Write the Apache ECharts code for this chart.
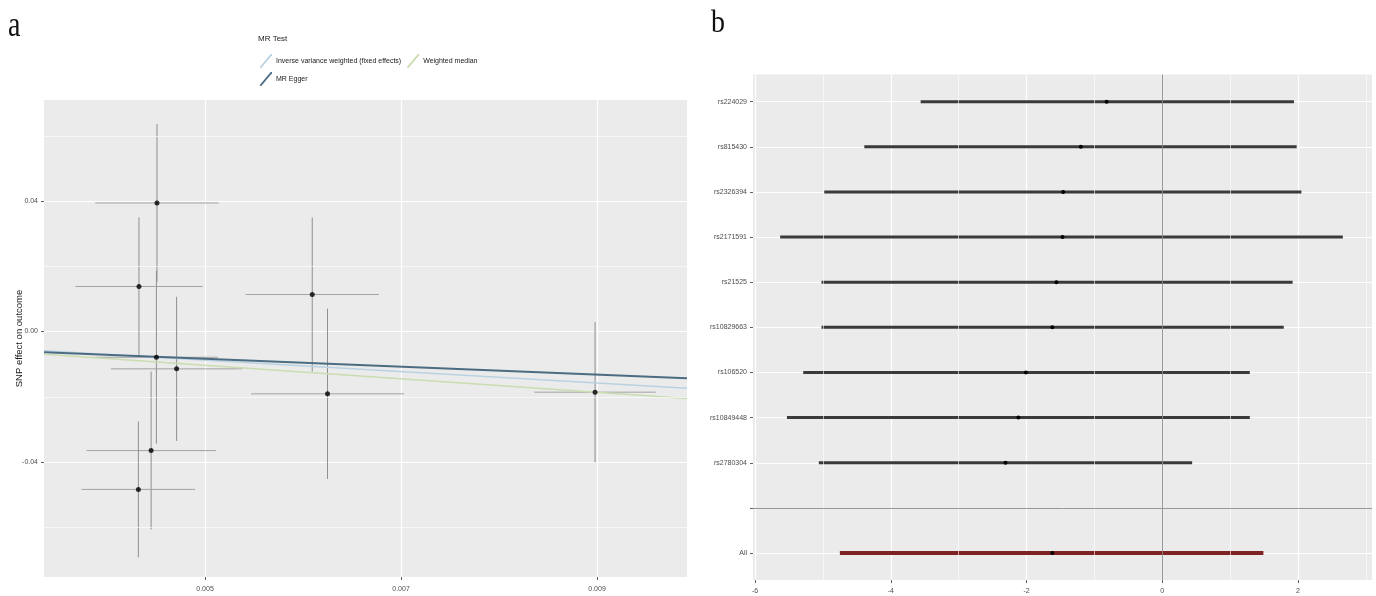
<!DOCTYPE html>
<html><head><meta charset="utf-8">
<script src="https://cdn.jsdelivr.net/npm/echarts@6/dist/echarts.min.js"></script>
<style>html,body{margin:0;padding:0;background:#fff}#c{width:1376px;height:596px}</style>
</head><body><div id="c"></div>
<script>
// ---------- Panel a: MR scatter ----------
const snpX = [0.00451, 0.004326, 0.004504, 0.00471, 0.00445, 0.00432, 0.006094, 0.00625, 0.00898];
const snpY = [0.0394, 0.0138, -0.0079, -0.01145, -0.0365, -0.0484, 0.01134, -0.0191, -0.0186];
const seX  = [0.00063, 0.00065, 0.00063, 0.00067, 0.00066, 0.00058, 0.00068, 0.00078, 0.00062];
const seY  = [0.0242, 0.0212, 0.0265, 0.0221, 0.0242, 0.0208, 0.0236, 0.0261, 0.0215];
const methods = ['Inverse variance weighted (fixed effects)', 'MR Egger', 'Weighted median'];
const methodSlope = [-1.75, -1.213, -2.07];
const methodIntercept = [0, -0.0023, 0];
const methodColors = ['#b9d2e2', '#4c6c82', '#cadcb0'];
const xTicksA = [0.005, 0.007, 0.009];
const xMinorA = [0.004, 0.006, 0.008];
const yTicksA = [-0.04, 0, 0.04];
const yMinorA = [-0.06, -0.02, 0.02, 0.06];
const xRangeA = [0.003357, 0.009918];
const yRangeA = [-0.07525, 0.07096];

// ---------- Panel b: forest plot ----------
const snpNames = ['rs224029', 'rs815430', 'rs2326394', 'rs2171591', 'rs21525', 'rs10829663', 'rs106520', 'rs10849448', 'rs2780304', '', 'All'];
const est = [-0.82, -1.20, -1.46, -1.47, -1.56, -1.62, -2.01, -2.12, -2.31, null, -1.62];
const ciLo = [-3.56, -4.39, -4.98, -5.63, -5.02, -5.02, -5.29, -5.53, -5.06, null, -4.75];
const ciHi = [1.94, 1.98, 2.05, 2.66, 1.92, 1.79, 1.29, 1.29, 0.44, null, 1.49];
const xTicksB = [-6, -4, -2, 0, 2];
const xMinorB = [-5, -3, -1, 1, 3];
const xRangeB = [-6.03, 3.09];

const FONT = 'Liberation Sans, Arial, sans-serif';
const tickStyle = {show: true, length: 3, lineStyle: {color: '#333', width: 0.8}};
const labStyle = {color: '#4d4d4d', fontSize: 7, fontFamily: FONT};
const split = {show: true, lineStyle: {color: '#ffffff', width: 1.2}};
const noLine = {show: false, onZero: false};

const chart = echarts.init(document.getElementById('c'), null, {renderer: 'canvas'});

const ablineSeries = methods.map((m, i) => ({
  name: m, type: 'line', xAxisIndex: 0, yAxisIndex: 0, z: 3,
  showSymbol: false, symbol: 'none', silent: true, animation: false,
  lineStyle: {color: methodColors[i], width: i === 1 ? 2 : 1.5},
  itemStyle: {color: methodColors[i]},
  data: xRangeA.map(x => [x, methodIntercept[i] + methodSlope[i] * x])
}));

const forestData = [];
snpNames.forEach((n, i) => { if (est[i] !== null) forestData.push([est[i], i, ciLo[i], ciHi[i]]); });

const legendIcon = 'path://M0,14 L1.3,14 L12,1.3 L12,0 L10.7,0 L0,12.7 Z';

const option = {
  backgroundColor: '#ffffff',
  animation: false,
  graphic: [
    {type: 'text', left: 8, top: 9, scaleY: 1.25, style: {text: 'a', font: '28px "Liberation Serif", "DejaVu Serif", serif', fill: '#111'}},
    {type: 'text', left: 711, top: 8, scaleY: 1.12, style: {text: 'b', font: '28px "Liberation Serif", "DejaVu Serif", serif', fill: '#111'}}
  ],
  title: {text: 'MR Test', left: 253, top: 30, textStyle: {fontSize: 8, fontWeight: 'normal', color: '#1a1a1a', fontFamily: FONT}},
  legend: [
    {data: [methods[0], methods[2]], left: 255, top: 49, itemWidth: 12, itemHeight: 14, itemGap: 6, icon: legendIcon,
     selectedMode: false, textStyle: {fontSize: 7, color: '#1a1a1a', fontFamily: FONT, padding: [0, 0, 0, -1]}},
    {data: [methods[1]], left: 255, top: 67, itemWidth: 12, itemHeight: 14, icon: legendIcon,
     selectedMode: false, textStyle: {fontSize: 7, color: '#1a1a1a', fontFamily: FONT, padding: [0, 0, 0, -1]}}
  ],
  grid: [
    {left: 44, top: 100, width: 643, height: 477, show: true, backgroundColor: '#ebebeb', borderWidth: 0},
    {left: 753, top: 74.6, width: 619, height: 505.5, show: true, backgroundColor: '#ebebeb', borderWidth: 0}
  ],
  xAxis: [
    {type: 'value', gridIndex: 0, min: xRangeA[0], max: xRangeA[1], position: 'bottom',
     axisLine: noLine, axisTick: Object.assign({customValues: xTicksA}, tickStyle),
     axisLabel: Object.assign({customValues: xTicksA, margin: 9, formatter: v => v.toFixed(3)}, labStyle),
     splitLine: split},
    {type: 'value', gridIndex: 1, min: xRangeB[0], max: xRangeB[1], position: 'bottom',
     axisLine: noLine, axisTick: Object.assign({customValues: xTicksB}, tickStyle),
     axisLabel: Object.assign({customValues: xTicksB, margin: 7, formatter: v => String(Math.round(v))}, labStyle),
     splitLine: split}
  ],
  yAxis: [
    {type: 'value', gridIndex: 0, min: yRangeA[0], max: yRangeA[1], position: 'left',
     name: 'SNP effect on outcome', nameLocation: 'middle', nameGap: 20, nameMoveOverlap: false,
     nameTextStyle: {fontSize: 9.5, color: '#1a1a1a', fontFamily: FONT},
     axisLine: noLine, axisTick: Object.assign({customValues: yTicksA}, tickStyle),
     axisLabel: Object.assign({customValues: yTicksA, margin: 6, formatter: v => v.toFixed(2)}, labStyle),
     splitLine: split},
    {type: 'value', gridIndex: 1, min: -0.6, max: 10.6, inverse: true, position: 'left',
     axisLine: noLine,
     axisTick: Object.assign({customValues: snpNames.map((n, i) => i)}, tickStyle),
     axisLabel: Object.assign({customValues: snpNames.map((n, i) => i), margin: 6,
       formatter: v => snpNames[Math.round(v)] || ''}, labStyle),
     splitLine: split}
  ],
  series: [
    // minor gridlines, panel a
    {type: 'line', xAxisIndex: 0, yAxisIndex: 0, z: 1, data: [], silent: true,
     markLine: {silent: true, symbol: ['none', 'none'], label: {show: false}, animation: false,
       lineStyle: {color: '#ffffff', width: 0.6, type: 'solid'},
       data: xMinorA.map(v => ({xAxis: v})).concat(yMinorA.map(v => ({yAxis: v})))}},
    // minor gridlines, panel b
    {type: 'line', xAxisIndex: 1, yAxisIndex: 1, z: 1, data: [], silent: true,
     markLine: {silent: true, symbol: ['none', 'none'], label: {show: false}, animation: false,
       lineStyle: {color: '#ffffff', width: 0.6, type: 'solid'},
       data: xMinorB.map(v => ({xAxis: v}))}},
    // reference lines, panel b
    {type: 'line', xAxisIndex: 1, yAxisIndex: 1, z: 2, data: [], silent: true,
     markLine: {silent: true, symbol: ['none', 'none'], label: {show: false}, animation: false,
       lineStyle: {color: '#8c8c8c', width: 0.9, type: 'solid'},
       data: [{xAxis: 0}, {yAxis: snpNames.indexOf('')}]}},
    // error bars panel a
    {type: 'custom', xAxisIndex: 0, yAxisIndex: 0, z: 2, clip: true, silent: true,
     data: snpX.map((x, i) => [x, snpY[i], seX[i], seY[i]]),
     renderItem(params, api) {
       const x = api.value(0), y = api.value(1), sx = api.value(2), sy = api.value(3);
       const h1 = api.coord([x - sx, y]), h2 = api.coord([x + sx, y]);
       const v1 = api.coord([x, y - sy]), v2 = api.coord([x, y + sy]);
       return {type: 'group', children: [
         {type: 'line', shape: {x1: h1[0], y1: h1[1], x2: h2[0], y2: h2[1]}, style: {stroke: '#a3a3a3', lineWidth: 1}},
         {type: 'line', shape: {x1: v1[0], y1: v1[1], x2: v2[0], y2: v2[1]}, style: {stroke: '#8f8f8f', lineWidth: 1}}
       ]};
     }},
    ...ablineSeries,
    // points panel a
    {type: 'scatter', xAxisIndex: 0, yAxisIndex: 0, z: 4, symbolSize: 5, silent: true,
     itemStyle: {color: '#000'}, data: snpX.map((x, i) => [x, snpY[i]])},
    // forest bars panel b
    {type: 'custom', xAxisIndex: 1, yAxisIndex: 1, z: 3, silent: true, data: forestData,
     renderItem(params, api) {
       const e = api.value(0), r = api.value(1), l = api.value(2), h = api.value(3);
       const isAll = snpNames[Math.round(r)] === 'All';
       const p1 = api.coord([l, r]), p2 = api.coord([h, r]), pc = api.coord([e, r]);
       return {type: 'group', children: [
         {type: 'line', shape: {x1: p1[0], y1: p1[1], x2: p2[0], y2: p2[1]},
          style: {stroke: isAll ? '#7e2222' : '#3a3a3a', lineWidth: isAll ? 4 : 3}},
         {type: 'circle', shape: {cx: pc[0], cy: pc[1], r: 2}, style: {fill: '#000'}}
       ]};
     }}
  ]
};
chart.setOption(option);
</script>
</body></html>
